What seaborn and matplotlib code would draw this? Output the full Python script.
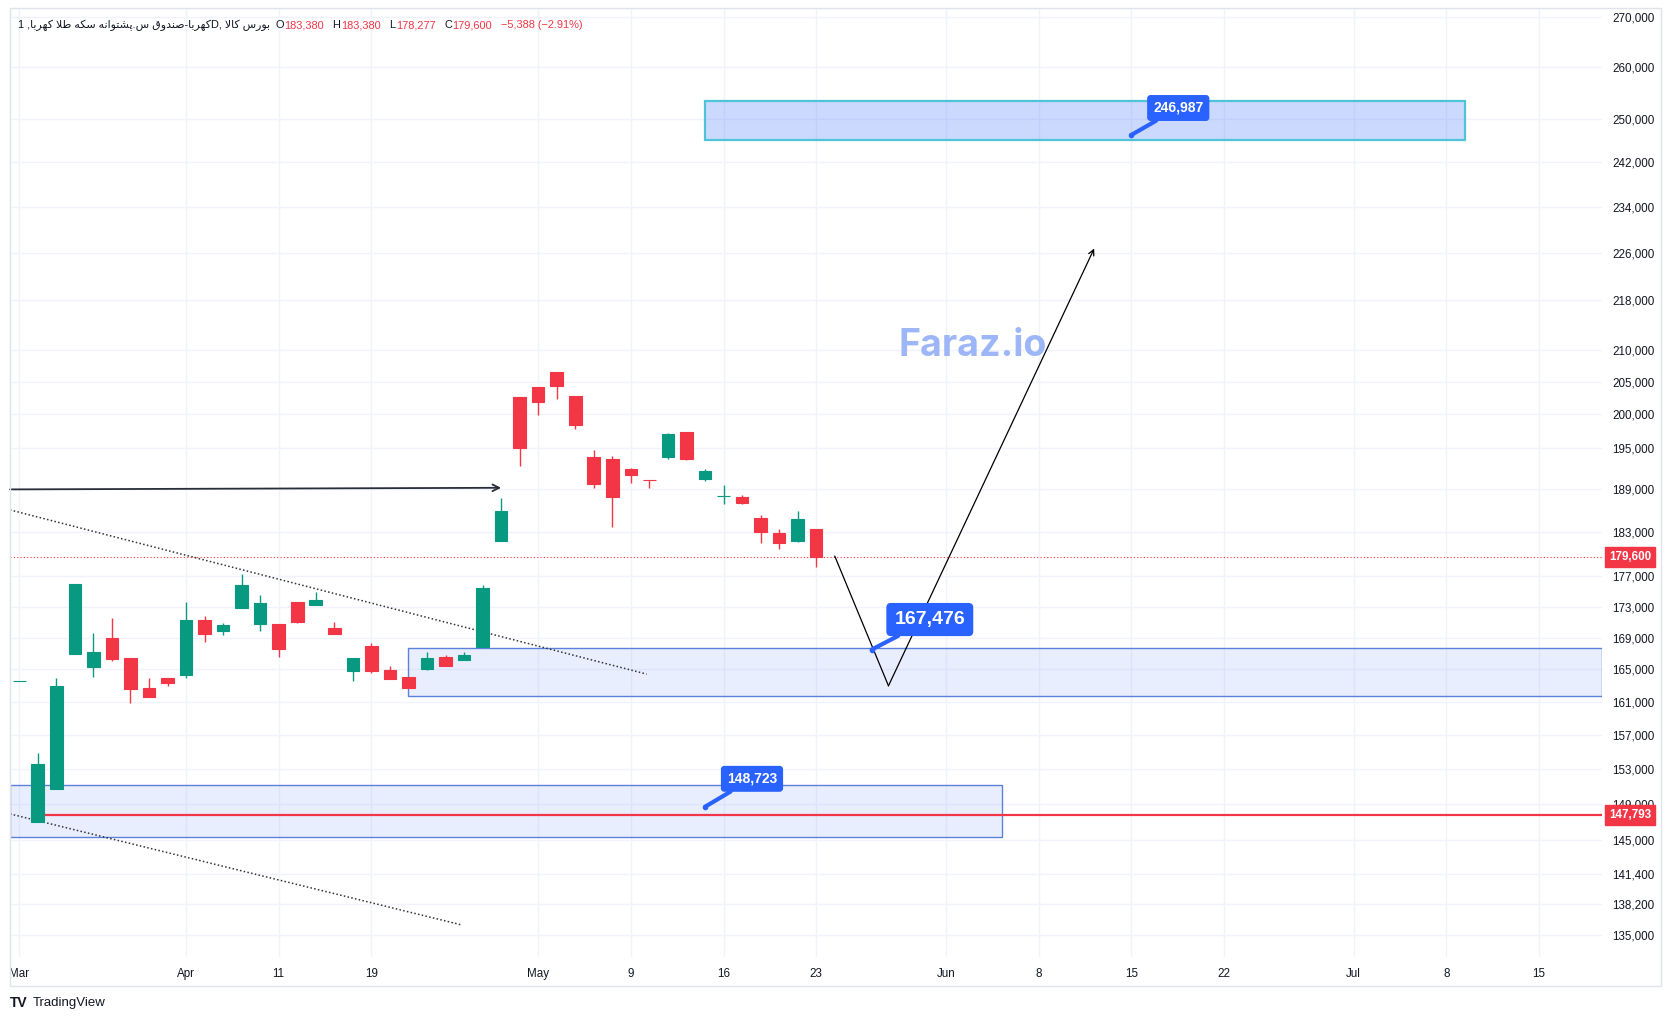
import numpy as np
import pandas as pd
import seaborn as sns
import matplotlib.pyplot as plt
from matplotlib.patches import Rectangle
from matplotlib.ticker import FixedLocator, NullLocator, FuncFormatter

# daily candles, one per trading day (index 0 = first bar of March)
opens = [163500, 147070, 150770, 166970, 165320, 168940, 166400, 162700, 163920, 164290,
         171260, 169870, 172850, 170780, 170730, 173610, 173250, 170230, 164840, 167920,
         164920, 164060, 165070, 166530, 166210, 167830, 181820, 202660, 204200, 206520,
         202800, 193670, 193390, 191940, 190400, 193720, 197400, 190540, 188030, 187930,
         184980, 182890, 181780, 183380]
highs = [163500, 154930, 163900, 175990, 169610, 171500, 166400, 163920, 163920, 173610,
         171770, 170910, 177310, 174530, 170730, 173610, 174930, 171000, 166400, 168260,
         165410, 164060, 167160, 166790, 167160, 175830, 187770, 202660, 204200, 206520,
         202800, 194720, 193780, 192130, 190400, 197250, 197400, 191940, 189640, 188220,
         185390, 183410, 185950, 183380]
lows = [163500, 147070, 150770, 166970, 164080, 165970, 160890, 161520, 162950, 163970,
        168480, 169370, 172850, 169870, 166570, 170910, 173250, 169500, 163590, 164590,
        163840, 162730, 164920, 165450, 166210, 167830, 181820, 192380, 199910, 202400,
        197880, 189240, 183770, 189950, 189240, 193430, 193280, 190240, 186920, 186920,
        181540, 180730, 181690, 178277]
closes = [163500, 153600, 162950, 175990, 167160, 166290, 162600, 161520, 163350, 171260,
          169500, 170610, 175830, 173480, 167590, 171040, 173860, 169500, 166400, 164840,
          163840, 162730, 166400, 165450, 166790, 175440, 185950, 195050, 201950, 204400,
          198480, 189810, 187960, 191120, 190300, 197100, 193430, 191650, 188030, 187110,
          183030, 181540, 184830, 179600]

tick_pos = [0, 9, 14, 19, 28, 33, 38, 43, 50, 55, 60, 65, 72, 77, 82]
tick_labels = ['Mar', 'Apr', '11', '19', 'May', '9', '16', '23', 'Jun', '8', '15', '22', 'Jul', '8', '15']
price_ticks = [135000, 138200, 141400, 145000, 149000, 153000, 157000, 161000, 165000, 169000,
               173000, 177000, 183000, 189000, 195000, 200000, 205000, 210000, 218000, 226000,
               234000, 242000, 250000, 260000, 270000]

# drawings on the chart
last_close = 179600
support_line = 147793
arrow_x = [-0.5, 26.0]
arrow_y = [189000, 189230]
upper_trend_x = [-0.5, 33.85]
upper_trend_y = [186100, 164400]
lower_trend_x = [-0.5, 23.9]
lower_trend_y = [147930, 136020]
path_x = [44.0, 46.9, 58.0]
path_y = [179730, 162950, 226700]
zones_x = [(-0.5, 53.0), (21.0, 85.4), (37.0, 78.0)]
zones_y = [(145370, 151140), (161700, 167640), (246060, 253390)]
callout_x = [46, 60, 37]
callout_y = [167476, 246987, 148723]

GREEN = '#089981'
RED = '#f23645'
BLUE = '#2962ff'
INK = '#131722'

W, H = 1673, 1021

# minimal persian shaping (matplotlib draws left to right, no shaping)
FORMS = {
    'ا': ('\uFE8D', '\uFE8E', None, None),
    'ب': ('\uFE8F', '\uFE90', '\uFE91', '\uFE92'),
    'پ': ('\uFB56', '\uFB57', '\uFB58', '\uFB59'),
    'ت': ('\uFE95', '\uFE96', '\uFE97', '\uFE98'),
    'د': ('\uFEA9', '\uFEAA', None, None),
    'ر': ('\uFEAD', '\uFEAE', None, None),
    'س': ('\uFEB1', '\uFEB2', '\uFEB3', '\uFEB4'),
    'ش': ('\uFEB5', '\uFEB6', '\uFEB7', '\uFEB8'),
    'ص': ('\uFEB9', '\uFEBA', '\uFEBB', '\uFEBC'),
    'ط': ('\uFEC1', '\uFEC2', '\uFEC3', '\uFEC4'),
    'ق': ('\uFED5', '\uFED6', '\uFED7', '\uFED8'),
    'ک': ('\uFB8E', '\uFB8F', '\uFB90', '\uFB91'),
    'ل': ('\uFEDD', '\uFEDE', '\uFEDF', '\uFEE0'),
    'ن': ('\uFEE5', '\uFEE6', '\uFEE7', '\uFEE8'),
    'ه': ('\uFEE9', '\uFEEA', '\uFEEB', '\uFEEC'),
    'و': ('\uFEED', '\uFEEE', None, None),
}


def rtl(s):
    out = []
    i = 0
    while i < len(s):
        ch = s[i]
        prev = s[i - 1] if i > 0 else ''
        jp = prev in FORMS and FORMS[prev][2] is not None
        if ch == 'ل' and i + 1 < len(s) and s[i + 1] == 'ا':
            out.append('\uFEFC' if jp else '\uFEFB')
            i += 2
            continue
        if ch not in FORMS:
            out.append(ch)
            i += 1
            continue
        nxt = s[i + 1] if i + 1 < len(s) else ''
        jn = nxt in FORMS and FORMS[ch][2] is not None
        iso, fin, ini, med = FORMS[ch]
        out.append(med if (jp and jn) else fin if jp else ini if jn else iso)
        i += 1
    return ''.join(out)[::-1]


sns.set_style('white')
plt.rcParams['font.family'] = ['Liberation Sans', 'DejaVu Sans']

fig = plt.figure(figsize=(W / 100, H / 100), dpi=100)
ax = fig.add_axes([10 / W, 1 - 957 / H, (1602 - 10) / W, (957 - 8.5) / H])

df = pd.DataFrame({'o': opens, 'h': highs, 'l': lows, 'c': closes})
df['i'] = np.arange(len(df))
colors = np.where(df['c'] >= df['o'], GREEN, RED)

ax.set_yscale('log')
ax.vlines(df['i'], df['l'], df['h'], colors=colors, lw=1, zorder=4)
ax.bar(df['i'], (df['c'] - df['o']).abs(), bottom=np.minimum(df['o'], df['c']), width=0.68,
       color=colors, edgecolor=colors, linewidth=0.8, zorder=4)

# zones
zone_style = [dict(fc=(0.16, 0.38, 1, 0.10), ec=(0.36, 0.50, 0.86), lw=1),
              dict(fc=(0.16, 0.38, 1, 0.10), ec=(0.36, 0.50, 0.86), lw=1),
              dict(fc=(0.16, 0.38, 1, 0.24), ec='#4fc3d9', lw=1.6)]
for (x0, x1), (y0, y1), st in zip(zones_x, zones_y, zone_style):
    ax.add_patch(Rectangle((x0, y0), x1 - x0, y1 - y0, zorder=2, **st))

# trend lines
sns.lineplot(x=upper_trend_x, y=upper_trend_y, ax=ax, color='#333333', lw=1.1, linestyle=(0, (1, 1.5)), zorder=3)
sns.lineplot(x=lower_trend_x, y=lower_trend_y, ax=ax, color='#333333', lw=1.1, linestyle=(0, (1, 1.5)), zorder=3)

# price lines
ax.axhline(last_close, color=RED, lw=0.8, linestyle=(0, (1, 2)), zorder=3)
ax.hlines(support_line, 1.3, 85.4, color=RED, lw=1.6, zorder=3)

# arrows
ax.annotate('', xy=(arrow_x[1], arrow_y[1]), xytext=(arrow_x[0], arrow_y[0]),
            arrowprops=dict(arrowstyle='->', color='#2a2e39', lw=1.3, mutation_scale=12,
                            shrinkA=0, shrinkB=0), zorder=5)
sns.lineplot(x=path_x[:2], y=path_y[:2], ax=ax, color='black', lw=0.9, zorder=5)
ax.annotate('', xy=(path_x[2], path_y[2]), xytext=(path_x[1], path_y[1]),
            arrowprops=dict(arrowstyle='->', color='black', lw=0.9, mutation_scale=10,
                            shrinkA=0, shrinkB=0), zorder=5)

# callouts
callout_off = [(58, 30), (47, 27), (47, 28)]
callout_fs = [14, 10, 10]
for x, y, off, fs in zip(callout_x, callout_y, callout_off, callout_fs):
    ax.annotate(f'{y:,}', xy=(x, y), xytext=off, textcoords='offset pixels', ha='center', va='center',
                color='white', fontsize=fs, fontweight='bold', zorder=8,
                bbox=dict(boxstyle='round,pad=0.38,rounding_size=0.2', fc=BLUE, ec=BLUE),
                arrowprops=dict(arrowstyle='-', color=BLUE, lw=3, shrinkA=0, shrinkB=0))
    ax.plot(x, y, 'o', color=BLUE, ms=3, zorder=8)

# axes
ax.set_xlim(-0.5, 85.4)
ax.set_ylim(132780, 271740)
ax.yaxis.set_major_locator(FixedLocator(price_ticks))
ax.yaxis.set_minor_locator(NullLocator())
ax.yaxis.set_major_formatter(FuncFormatter(lambda v, p: f'{v:,.0f}'))
ax.yaxis.tick_right()
ax.set_xticks(tick_pos, tick_labels)
ax.tick_params(axis='y', length=0, pad=7.2, labelsize=8.4, labelcolor=INK)
ax.tick_params(axis='x', length=0, pad=8, labelsize=8.4, labelcolor=INK)
ax.grid(True, color='#f0f3fa', lw=1)
ax.set_axisbelow(True)
for s in ax.spines.values():
    s.set_visible(False)
ax.set_xlabel('')
ax.set_ylabel('')

# price tags on the scale
for val in [last_close, support_line]:
    ax.annotate(f'{val:,}', xy=(1, val), xycoords=('axes fraction', 'data'), xytext=(28, 0),
                textcoords='offset pixels', ha='center', va='center', color='white', fontsize=8.4,
                fontweight='bold', zorder=10, annotation_clip=False,
                bbox=dict(boxstyle='square,pad=0.35', fc=RED, ec=RED))

# watermark
ax.text(973 / W, 1 - 346 / H, 'Faraz.io', transform=fig.transFigure, fontsize=27, fontweight='bold',
        color='#9cb6f7', ha='center', va='center', family=['Inter', 'DejaVu Sans'], zorder=1)

# legend line on top
title = rtl('کهربا-صندوق س.پشتوانه سکه طلا کهربا, 1') + 'D, ' + rtl('بورس کالا')
pieces = [('  O', INK), ('183,380', RED), ('   H', INK), ('183,380', RED), ('   L', INK),
          ('178,277', RED), ('   C', INK), ('179,600', RED), ('   \u22125,388 (\u22122.91%)', RED)]
prev = fig.text(18 / W, 1 - 25 / H, title, fontsize=7.9, color=INK, ha='left', va='center')
for txt, col in pieces:
    prev = ax.annotate(txt, xy=(1, 0.5), xycoords=prev, xytext=(0, 0), textcoords='offset points',
                       ha='left', va='center', fontsize=7.9, color=col, annotation_clip=False)

# outer frame
fig.add_artist(Rectangle((9.6 / W, 1 - 986 / H), (1661 - 9.6) / W, (986 - 8.5) / H,
                         transform=fig.transFigure, fill=False, ec='#e0e3eb', lw=1))

# branding
fig.text(10 / W, 1 - 1003 / H, 'TV', fontsize=10, fontweight='bold', color=INK, ha='left', va='center')
fig.text(33 / W, 1 - 1003 / H, 'TradingView', fontsize=9.5, color=INK, ha='left', va='center')

fig.savefig('out.png', dpi=100)
